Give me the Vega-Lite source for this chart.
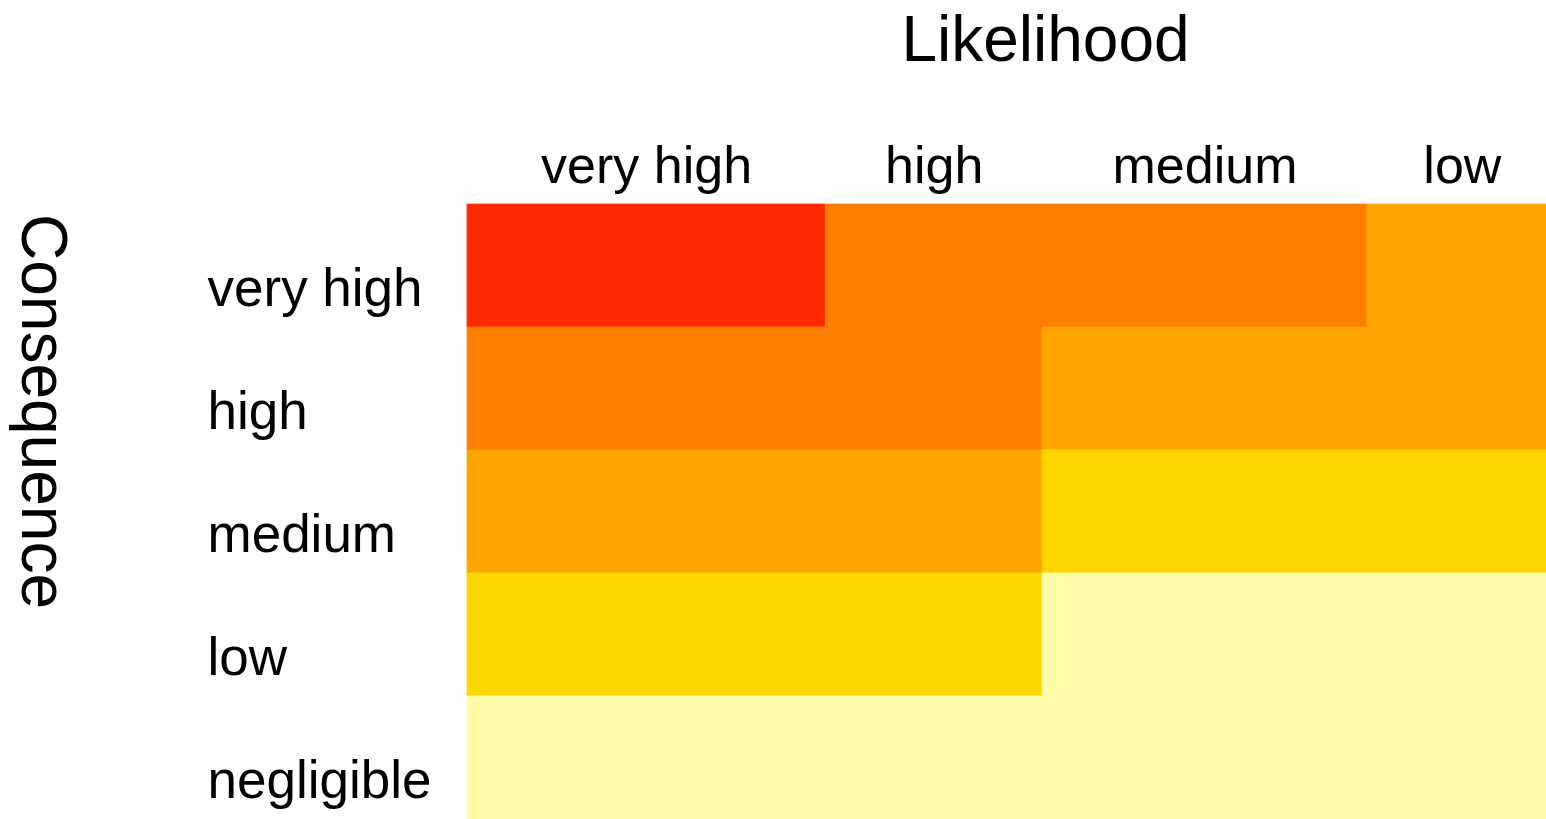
{
  "$schema": "https://vega.github.io/schema/vega-lite/v6.json",
  "autosize": {"type": "none"},
  "padding": {"left": 467, "top": 204, "right": 0, "bottom": 0},
  "width": 1079,
  "height": 615,
  "background": "white",
  "config": {
    "view": {"stroke": null},
    "font": "Liberation Sans",
    "axis": {"labelFont": "Liberation Sans", "titleFont": "Liberation Sans", "labelColor": "black", "titleColor": "black"}
  },
  "datasets": {
    "bands": [
      {"likelihood": "very high", "lo": 0, "hi": 0.332},
      {"likelihood": "high", "lo": 0.332, "hi": 0.533},
      {"likelihood": "medium", "lo": 0.533, "hi": 0.834},
      {"likelihood": "low", "lo": 0.834, "hi": 1.0}
    ]
  },
  "data": {
    "values": [
      {"consequence": "very high", "likelihood": "very high", "risk": "extreme"},
      {"consequence": "very high", "likelihood": "high", "risk": "high"},
      {"consequence": "very high", "likelihood": "medium", "risk": "high"},
      {"consequence": "very high", "likelihood": "low", "risk": "medium"},
      {"consequence": "high", "likelihood": "very high", "risk": "high"},
      {"consequence": "high", "likelihood": "high", "risk": "high"},
      {"consequence": "high", "likelihood": "medium", "risk": "medium"},
      {"consequence": "high", "likelihood": "low", "risk": "medium"},
      {"consequence": "medium", "likelihood": "very high", "risk": "medium"},
      {"consequence": "medium", "likelihood": "high", "risk": "medium"},
      {"consequence": "medium", "likelihood": "medium", "risk": "low"},
      {"consequence": "medium", "likelihood": "low", "risk": "low"},
      {"consequence": "low", "likelihood": "very high", "risk": "low"},
      {"consequence": "low", "likelihood": "high", "risk": "low"},
      {"consequence": "low", "likelihood": "medium", "risk": "negligible"},
      {"consequence": "low", "likelihood": "low", "risk": "negligible"},
      {"consequence": "negligible", "likelihood": "very high", "risk": "negligible"},
      {"consequence": "negligible", "likelihood": "high", "risk": "negligible"},
      {"consequence": "negligible", "likelihood": "medium", "risk": "negligible"},
      {"consequence": "negligible", "likelihood": "low", "risk": "negligible"}
    ]
  },
  "transform": [
    {"lookup": "likelihood", "from": {"data": {"name": "bands"}, "key": "likelihood", "fields": ["lo", "hi"]}}
  ],
  "mark": {"type": "rect", "strokeWidth": 0.8},
  "encoding": {
    "x": {
      "field": "lo",
      "type": "quantitative",
      "scale": {"domain": [0, 1], "nice": false, "zero": false},
      "axis": {
        "orient": "top",
        "values": [0.166, 0.4325, 0.6835, 0.922],
        "labelExpr": "datum.value < 0.3 ? 'very high' : datum.value < 0.6 ? 'high' : datum.value < 0.8 ? 'medium' : 'low'",
        "grid": false,
        "domain": false,
        "ticks": false,
        "tickSize": 0,
        "labelPadding": 22,
        "labelBaseline": "alphabetic",
        "labelFontSize": 52,
        "labelAlign": "center",
        "labelFlush": false,
        "labelOverlap": false,
        "labelLimit": 500,
        "title": "Likelihood",
        "titleFontSize": 64,
        "titleFontWeight": "normal",
        "titleX": 578,
        "titleY": -144,
        "titleAlign": "center",
        "titleBaseline": "alphabetic"
      }
    },
    "x2": {"field": "hi"},
    "y": {
      "field": "consequence",
      "type": "nominal",
      "sort": ["very high", "high", "medium", "low", "negligible"],
      "scale": {"paddingInner": 0, "paddingOuter": 0},
      "axis": {
        "orient": "left",
        "domain": false,
        "ticks": false,
        "tickSize": 0,
        "labelPadding": 260,
        "labelAlign": "left",
        "labelBaseline": "middle",
        "labelOffset": 24,
        "labelFontSize": 53,
        "labelLimit": 400,
        "title": "Consequence",
        "titleFontSize": 64,
        "titleFontWeight": "normal",
        "titleAngle": 90,
        "titleX": -446,
        "titleY": 207,
        "titleAlign": "center",
        "titleBaseline": "alphabetic"
      }
    },
    "color": {
      "field": "risk",
      "type": "nominal",
      "scale": {
        "domain": ["extreme", "high", "medium", "low", "negligible"],
        "range": ["#FF2A00", "#FF7F00", "#FFA500", "#FFD700", "#FFFCA8"]
      },
      "legend": null
    },
    "stroke": {
      "field": "risk",
      "type": "nominal",
      "scale": {
        "domain": ["extreme", "high", "medium", "low", "negligible"],
        "range": ["#FF2A00", "#FF7F00", "#FFA500", "#FFD700", "#FFFCA8"]
      },
      "legend": null
    }
  }
}
